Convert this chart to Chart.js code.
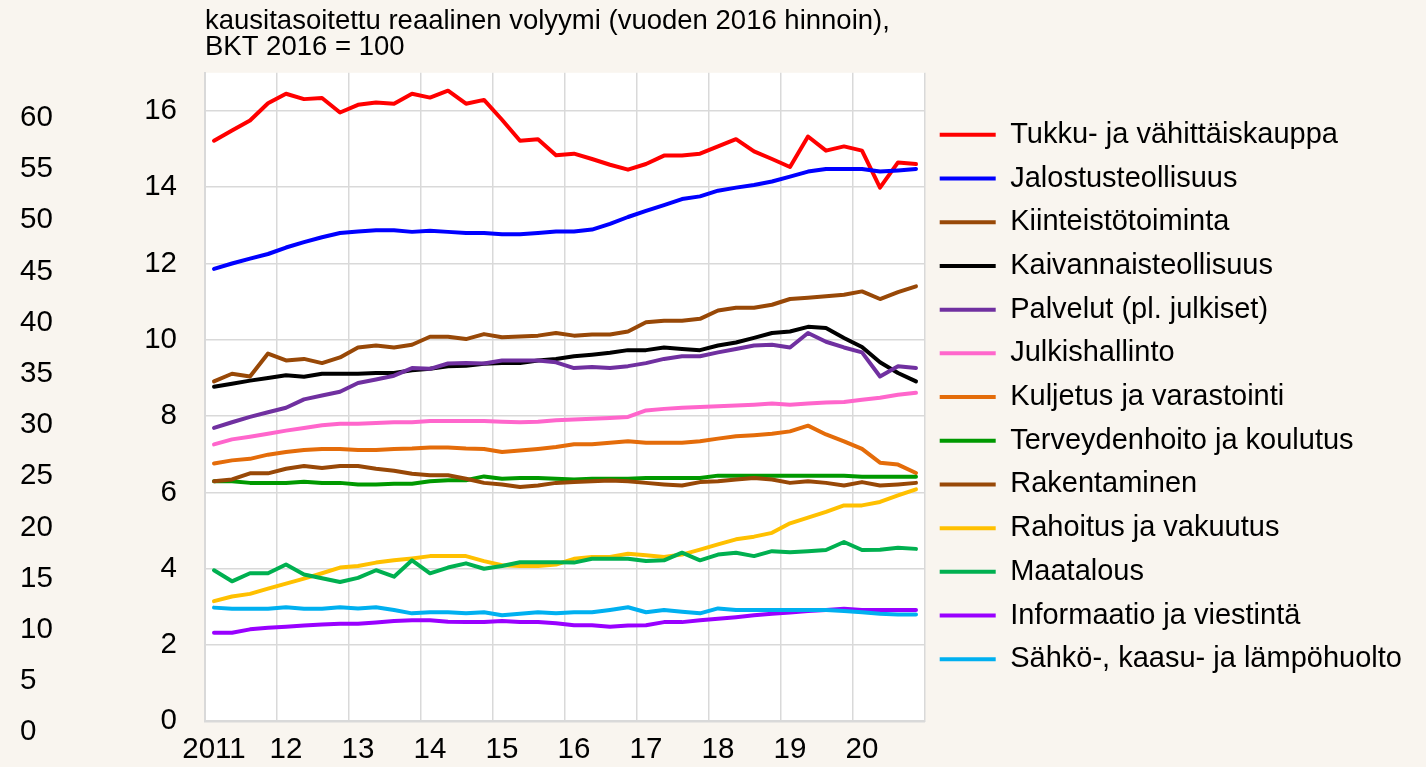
<!DOCTYPE html>
<html lang="fi">
<head>
<meta charset="utf-8">
<title>Toimialojen arvonlisäys</title>
<script src="https://cdn.jsdelivr.net/npm/chart.js@4.4.1/dist/chart.umd.min.js"></script>
<style>
  html, body { margin: 0; padding: 0; background: #f9f5ef; }
  #wrap { width: 1426px; height: 767px; }
</style>
</head>
<body>
<div id="wrap"><canvas id="volyymiChart" width="1426" height="767"></canvas></div>
<script>
// Data luettu kuvasta, neljännesvuosittain 2011Q1 - 2020Q4
const yearLabels = ['2011', '12', '13', '14', '15', '16', '17', '18', '19', '20'];
const leftTicks = [0, 5, 10, 15, 20, 25, 30, 35, 40, 45, 50, 55, 60];
const titleLines = ['kausitasoitettu reaalinen volyymi (vuoden 2016 hinnoin),', 'BKT 2016 = 100'];

const seriesNames = [
  'Tukku- ja vähittäiskauppa', 'Jalostusteollisuus', 'Kiinteistötoiminta', 'Kaivannaisteollisuus',
  'Palvelut (pl. julkiset)', 'Julkishallinto', 'Kuljetus ja varastointi', 'Terveydenhoito ja koulutus',
  'Rakentaminen', 'Rahoitus ja vakuutus', 'Maatalous', 'Informaatio ja viestintä', 'Sähkö-, kaasu- ja lämpöhuolto'
];
const seriesColors = [
  '#ff0000', '#0000ff', '#984807', '#000000', '#7030a0', '#ff66cc', '#e46c0a',
  '#009900', '#984807', '#ffc000', '#00b050', '#9900ff', '#00b0f0'
];

const tukku = [15.22, 15.49, 15.75, 16.20, 16.45, 16.31, 16.34, 15.96, 16.16, 16.22, 16.19, 16.45, 16.35, 16.53, 16.19, 16.29, 15.77, 15.22, 15.26, 14.84,
  14.88, 14.74, 14.59, 14.46, 14.61, 14.83, 14.83, 14.88, 15.07, 15.26, 14.94, 14.74, 14.53, 15.33, 14.96, 15.07, 14.96, 13.99, 14.65, 14.61];
const jalostus = [11.86, 12.00, 12.13, 12.25, 12.42, 12.56, 12.69, 12.80, 12.84, 12.87, 12.87, 12.83, 12.86, 12.83, 12.80, 12.80, 12.77, 12.77, 12.80, 12.84,
  12.84, 12.89, 13.04, 13.22, 13.38, 13.53, 13.69, 13.76, 13.91, 13.99, 14.06, 14.15, 14.28, 14.41, 14.48, 14.48, 14.48, 14.41, 14.44, 14.48];
const kiinteisto = [8.91, 9.11, 9.04, 9.64, 9.46, 9.50, 9.39, 9.54, 9.80, 9.85, 9.80, 9.87, 10.08, 10.08, 10.02, 10.15, 10.07, 10.09, 10.11, 10.18,
  10.11, 10.14, 10.14, 10.22, 10.46, 10.50, 10.50, 10.55, 10.77, 10.84, 10.84, 10.92, 11.07, 11.10, 11.14, 11.18, 11.27, 11.07, 11.25, 11.40];
const kaivannais = [8.77, 8.85, 8.93, 9.00, 9.07, 9.03, 9.11, 9.11, 9.11, 9.13, 9.13, 9.20, 9.24, 9.31, 9.32, 9.37, 9.39, 9.39, 9.46, 9.50,
  9.57, 9.61, 9.66, 9.73, 9.73, 9.80, 9.76, 9.73, 9.85, 9.93, 10.05, 10.18, 10.22, 10.34, 10.31, 10.05, 9.81, 9.41, 9.13, 8.91];
const palvelut = [7.69, 7.84, 7.98, 8.10, 8.22, 8.44, 8.54, 8.64, 8.87, 8.96, 9.06, 9.26, 9.24, 9.38, 9.39, 9.38, 9.46, 9.46, 9.46, 9.41,
  9.26, 9.29, 9.26, 9.31, 9.39, 9.50, 9.57, 9.57, 9.67, 9.76, 9.85, 9.87, 9.80, 10.18, 9.95, 9.80, 9.67, 9.04, 9.31, 9.26];
const julkis = [7.26, 7.39, 7.46, 7.54, 7.62, 7.69, 7.76, 7.80, 7.80, 7.82, 7.84, 7.84, 7.87, 7.87, 7.87, 7.87, 7.85, 7.84, 7.85, 7.89,
  7.91, 7.93, 7.95, 7.98, 8.15, 8.19, 8.22, 8.24, 8.26, 8.28, 8.30, 8.33, 8.30, 8.33, 8.36, 8.37, 8.43, 8.48, 8.56, 8.61];
const kuljetus = [6.76, 6.84, 6.88, 6.99, 7.06, 7.11, 7.14, 7.14, 7.11, 7.11, 7.14, 7.15, 7.18, 7.18, 7.15, 7.14, 7.06, 7.10, 7.14, 7.19,
  7.26, 7.26, 7.30, 7.34, 7.30, 7.30, 7.30, 7.34, 7.41, 7.47, 7.50, 7.54, 7.60, 7.75, 7.52, 7.34, 7.14, 6.78, 6.73, 6.51];
const terveys = [6.29, 6.29, 6.25, 6.25, 6.25, 6.28, 6.25, 6.25, 6.21, 6.21, 6.23, 6.23, 6.29, 6.32, 6.32, 6.42, 6.36, 6.38, 6.38, 6.36,
  6.34, 6.36, 6.36, 6.36, 6.38, 6.38, 6.38, 6.38, 6.44, 6.44, 6.44, 6.44, 6.44, 6.44, 6.44, 6.44, 6.41, 6.41, 6.41, 6.41];
const rakentaminen = [6.29, 6.34, 6.50, 6.50, 6.62, 6.69, 6.64, 6.69, 6.69, 6.62, 6.57, 6.49, 6.45, 6.45, 6.36, 6.25, 6.21, 6.14, 6.18, 6.25,
  6.27, 6.29, 6.31, 6.29, 6.25, 6.21, 6.18, 6.27, 6.29, 6.34, 6.38, 6.34, 6.25, 6.29, 6.25, 6.18, 6.27, 6.18, 6.21, 6.25];
const rahoitus = [3.15, 3.27, 3.34, 3.48, 3.61, 3.74, 3.88, 4.03, 4.07, 4.16, 4.22, 4.27, 4.33, 4.33, 4.33, 4.20, 4.09, 4.07, 4.07, 4.11,
  4.26, 4.31, 4.31, 4.39, 4.35, 4.31, 4.37, 4.50, 4.64, 4.77, 4.84, 4.94, 5.19, 5.34, 5.49, 5.66, 5.66, 5.75, 5.92, 6.08];
const maatalous = [3.96, 3.67, 3.88, 3.88, 4.11, 3.85, 3.75, 3.65, 3.76, 3.96, 3.79, 4.22, 3.88, 4.03, 4.14, 4.00, 4.07, 4.17, 4.17, 4.17,
  4.16, 4.26, 4.26, 4.26, 4.20, 4.22, 4.42, 4.22, 4.37, 4.42, 4.33, 4.46, 4.43, 4.46, 4.49, 4.70, 4.49, 4.50, 4.55, 4.52];
const informaatio = [2.32, 2.32, 2.41, 2.45, 2.48, 2.51, 2.54, 2.56, 2.56, 2.59, 2.63, 2.65, 2.65, 2.61, 2.60, 2.60, 2.63, 2.60, 2.60, 2.57,
  2.52, 2.52, 2.48, 2.51, 2.52, 2.60, 2.60, 2.65, 2.69, 2.73, 2.78, 2.82, 2.85, 2.89, 2.92, 2.95, 2.92, 2.92, 2.92, 2.92];
const sahko = [2.98, 2.95, 2.95, 2.95, 2.99, 2.95, 2.95, 2.99, 2.96, 2.99, 2.92, 2.83, 2.86, 2.86, 2.83, 2.86, 2.78, 2.82, 2.86, 2.83,
  2.86, 2.86, 2.92, 2.99, 2.86, 2.92, 2.87, 2.83, 2.96, 2.92, 2.92, 2.92, 2.92, 2.92, 2.92, 2.89, 2.86, 2.82, 2.80, 2.80];

const seriesData = [tukku, jalostus, kiinteisto, kaivannais, palvelut, julkis, kuljetus, terveys,
  rakentaminen, rahoitus, maatalous, informaatio, sahko];

// kategoriat: vuosi + neljännes
const quarterLabels = [];
yearLabels.forEach(function(y, i) {
  for (let q = 1; q <= 4; q++) quarterLabels.push((2011 + i) + 'Q' + q);
});

const fontFamily = "'Liberation Sans', Arial, sans-serif";
const gridColor = '#d9d9d9';
const legendWidth = 501;

// valkoinen piirtoalue beigen taustan päällä
const plotBackground = {
  id: 'plotBackground',
  beforeDraw(chart) {
    const { ctx, chartArea } = chart;
    ctx.save();
    ctx.fillStyle = '#ffffff';
    ctx.fillRect(chartArea.left, chartArea.top, chartArea.right - chartArea.left, chartArea.bottom - chartArea.top);
    ctx.restore();
  }
};

// selitteen leveys kiinteäksi, jotta piirtoalue päättyy samaan kohtaan
const legendFixedWidth = {
  id: 'legendFixedWidth',
  beforeUpdate(chart) {
    const legend = chart.legend;
    if (!legend || legend._fixedFit) return;
    const fit = legend.fit;
    legend.fit = function() {
      fit.call(this);
      this.width = legendWidth;
    };
    legend._fixedFit = true;
  }
};

Chart.defaults.font.family = fontFamily;
Chart.defaults.color = '#000000';

const datasets = seriesNames.map(function(name, i) {
  return {
    label: name,
    data: seriesData[i],
    borderColor: seriesColors[i],
    backgroundColor: seriesColors[i],
    borderWidth: 4,
    pointRadius: 0,
    pointHoverRadius: 0,
    tension: 0,
    borderJoinStyle: 'round',
    borderCapStyle: 'round',
    order: -i
  };
});

const ctx = document.getElementById('volyymiChart').getContext('2d');
new Chart(ctx, {
  type: 'line',
  data: { labels: quarterLabels, datasets: datasets },
  plugins: [plotBackground, legendFixedWidth],
  options: {
    responsive: false,
    animation: false,
    layout: { padding: { left: 20, right: 0, top: 0, bottom: 0 } },
    plugins: {
      tooltip: { enabled: false },
      title: {
        display: true,
        text: titleLines,
        align: 'start',
        fullSize: false,
        color: '#000000',
        font: { size: 27.5, weight: 'normal', lineHeight: 0.96 },
        padding: { top: 8, bottom: 12 }
      },
      legend: {
        position: 'right',
        align: 'center',
        fullSize: false,
        labels: {
          usePointStyle: true,
          pointStyle: 'line',
          pointStyleWidth: 56,
          padding: 14.7,
          color: '#000000',
          font: { size: 29 },
          sort: function(a, b) { return a.datasetIndex - b.datasetIndex; }
        }
      }
    },
    scales: {
      x: {
        type: 'category',
        offset: true,
        grid: {
          offset: true,
          drawTicks: false,
          lineWidth: 1.5,
          color: function(c) {
            return (c.type !== 'tick' || c.index % 4 === 0) ? gridColor : 'rgba(0,0,0,0)';
          }
        },
        border: { color: gridColor, width: 2 },
        ticks: {
          autoSkip: false,
          maxRotation: 0,
          minRotation: 0,
          padding: 12.5,
          font: { size: 29.5, lineHeight: 1.1 },
          callback: function(value, index) {
            return index % 4 === 0 ? yearLabels[index / 4] : '';
          }
        },
        afterFit: function(scale) { scale.height = 45; }
      },
      y: {
        position: 'left',
        weight: 0,
        min: 0,
        max: 17,
        grid: { color: gridColor, lineWidth: 1.5, drawTicks: false },
        border: { color: gridColor, width: 2 },
        ticks: { stepSize: 2, includeBounds: false, padding: 28, font: { size: 29.5 } },
        afterFit: function(scale) { scale.width = 95; }
      },
      yLeft: {
        type: 'linear',
        position: 'left',
        weight: 1,
        min: 1.073,
        max: 64.39,
        grid: { display: false, drawTicks: false },
        border: { display: false },
        ticks: {
          crossAlign: 'far',
          autoSkip: false,
          font: { size: 29.5 },
          callback: function(value) { return String(value); }
        },
        afterBuildTicks: function(scale) {
          scale.ticks = leftTicks.map(function(v) { return { value: v }; });
        },
        afterFit: function(scale) { scale.width = 90; }
      }
    }
  }
});
</script>
</body>
</html>
